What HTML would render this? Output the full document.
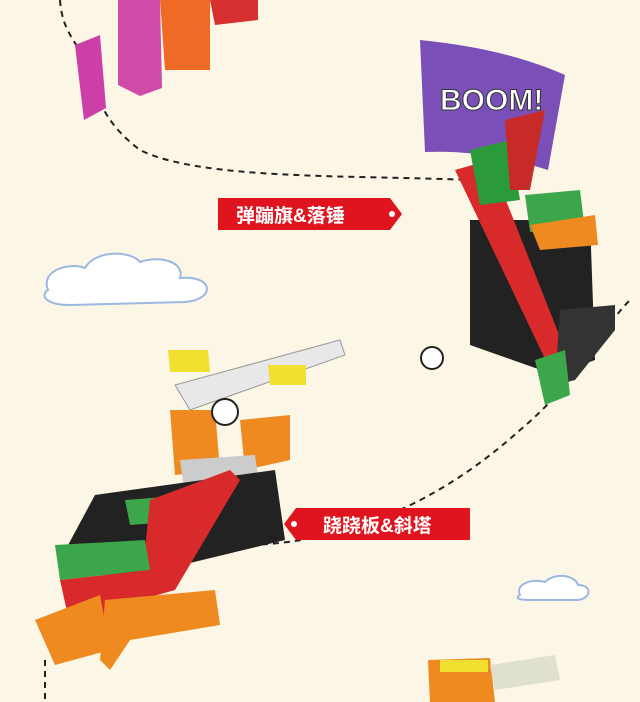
<!DOCTYPE html>
<html><head><meta charset="utf-8"><style>
body{margin:0;background:#fcf6e6;}
svg{display:block}
text{font-family:"Liberation Sans","Noto Sans CJK SC",sans-serif;font-weight:bold}
</style></head><body>
<svg width="640" height="702" viewBox="0 0 640 702" xmlns="http://www.w3.org/2000/svg">
<rect width="640" height="702" fill="#fcf6e6"/>
<!-- dashed paths -->
<g fill="none" stroke="#222" stroke-width="2" stroke-dasharray="6,5">
<path d="M60 0 C62 30 75 40 85 60 C95 90 100 120 140 150 C200 180 350 175 470 180"/>
<path d="M240 545 C320 545 420 520 520 430 C580 380 600 330 630 300"/>
<path d="M45 660 L45 702"/>
</g>
<!-- top left bricks -->
<polygon points="75,45 100,35 106,108 84,120" fill="#cc3fa8"/>
<polygon points="118,0 160,0 162,88 140,96 118,85" fill="#d04aa8"/>
<polygon points="160,0 210,0 210,70 165,70" fill="#ef6a24"/>
<polygon points="210,0 258,0 258,20 215,25" fill="#d83030"/>
<!-- clouds -->
<path d="M48 290 C40 270 70 262 85 268 C95 250 130 250 140 262 C160 255 185 262 180 278 C215 275 215 300 185 302 L70 305 C45 305 40 295 48 290Z" fill="#fff" stroke="#9bb8e0" stroke-width="2"/>
<path d="M520 595 C515 585 530 578 545 582 C555 572 575 575 578 585 C592 585 592 598 578 600 L530 600 C518 600 515 598 520 595Z" fill="#fff" stroke="#9bb8e0" stroke-width="2"/>
<!-- flag -->
<path d="M420 40 C470 45 520 55 565 75 L548 170 C510 158 470 150 425 152 Z" fill="#7a4fb8"/>
<text x="440" y="110" font-size="30" fill="#fff" stroke="#333" stroke-width="1" font-weight="normal">BOOM!</text>
<!-- right machine -->
<polygon points="470,220 590,220 595,360 555,375 470,345" fill="#222"/>
<polygon points="525,195 580,190 585,230 530,232" fill="#3ba64a"/>
<polygon points="530,225 595,215 598,245 540,250" fill="#ef8a20"/>
<polygon points="455,170 490,160 575,375 555,380" fill="#d82a2a"/>
<polygon points="470,150 510,140 520,200 480,205" fill="#2a9a3a"/>
<polygon points="505,120 545,110 530,190 510,190" fill="#c82a2a"/>
<polygon points="560,310 615,305 615,330 575,380 555,385" fill="#333"/>
<polygon points="535,360 565,350 570,395 545,405" fill="#3ba64a"/>
<circle cx="432" cy="358" r="11" fill="#fff" stroke="#222" stroke-width="2"/>
<!-- left machine -->
<polygon points="175,385 340,340 345,355 190,410" fill="#e8e8e8" stroke="#999"/>
<polygon points="168,350 208,350 210,372 170,372" fill="#f2e030"/>
<polygon points="268,365 306,365 306,385 270,385" fill="#f2e030"/>
<polygon points="170,410 215,410 220,470 175,475" fill="#ef8a20"/>
<polygon points="240,420 290,415 290,460 245,470" fill="#ef8a20"/>
<polygon points="180,460 255,455 260,490 185,495" fill="#cccccc"/>
<polygon points="95,495 275,470 285,540 120,580 60,560" fill="#222"/>
<polygon points="125,500 190,495 195,520 130,525" fill="#3ba64a"/>
<polygon points="150,500 230,470 240,480 175,590 140,600" fill="#d82a2a"/>
<polygon points="55,545 145,540 150,570 60,580" fill="#3ba64a"/>
<polygon points="60,580 150,570 160,615 70,625" fill="#d82a2a"/>
<polygon points="35,620 100,595 110,650 55,665" fill="#ef8a20"/>
<polygon points="105,600 215,590 220,625 130,640 110,670 100,660" fill="#ef8a20"/>
<circle cx="225" cy="412" r="13" fill="#fff" stroke="#222" stroke-width="2"/>
<!-- bottom right small -->
<polygon points="428,660 490,658 495,702 430,702" fill="#ef8a20"/>
<polygon points="490,665 555,655 560,680 495,690" fill="#e0e0d0"/>
<polygon points="440,660 488,660 488,672 440,672" fill="#f2e030"/>
<!-- labels -->
<polygon points="218,198 390,198 402,214 390,230 218,230" fill="#e0141e"/>
<circle cx="392" cy="214" r="3" fill="#fff"/>
<text x="236" y="222" font-size="19" fill="#fff">弹蹦旗&amp;落锤</text>
<polygon points="296,508 470,508 470,540 296,540 284,524" fill="#e0141e"/>
<circle cx="294" cy="524" r="3" fill="#fff"/>
<text x="323" y="532" font-size="19" fill="#fff">跷跷板&amp;斜塔</text>
</svg>
</body></html>
